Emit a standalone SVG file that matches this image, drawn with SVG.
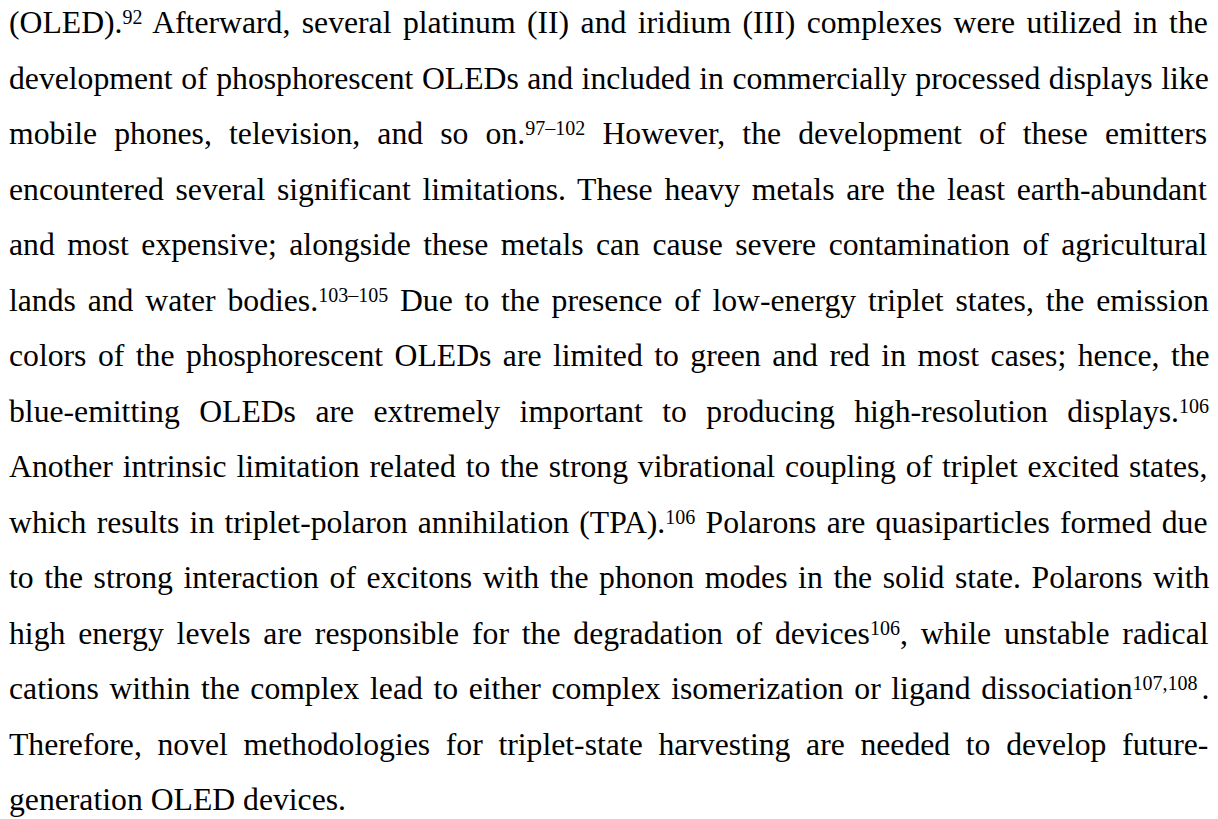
<svg xmlns="http://www.w3.org/2000/svg" width="1218" height="819" viewBox="0 0 1218 819">
  <style>
    .body { font-family: "Liberation Serif", "Times New Roman", serif; font-size: 31.7px; fill: #000; }
    .sup { font-size: 20px; }
  </style>
  <rect width="1218" height="819" fill="#fff"/>
  <g id="paragraph" class="body">
    <text x="9" y="33" word-spacing="3.5">(OLED).<tspan class="sup" dy="-9">92</tspan><tspan dy="9"> Afterward, several platinum (II) and iridium (III) complexes were utilized in the</tspan></text>
    <text x="9" y="88.5" word-spacing="0.65">development of phosphorescent OLEDs and included in commercially processed displays like</text>
    <text x="9" y="144" word-spacing="9.25">mobile phones, television, and so on.<tspan class="sup" dy="-9">97–102</tspan><tspan dy="9"> However, the development of these emitters</tspan></text>
    <text x="9" y="199.5" word-spacing="3.78">encountered several significant limitations. These heavy metals are the least earth-abundant</text>
    <text x="9" y="255" word-spacing="4.55">and most expensive; alongside these metals can cause severe contamination of agricultural</text>
    <text x="9" y="310.5" word-spacing="3.9">lands and water bodies.<tspan class="sup" dy="-9">103–105</tspan><tspan dy="9"> Due to the presence of low-energy triplet states, the emission</tspan></text>
    <text x="9" y="366" word-spacing="3.55">colors of the phosphorescent OLEDs are limited to green and red in most cases; hence, the</text>
    <text x="9" y="421.5" word-spacing="11.5">blue-emitting OLEDs are extremely important to producing high-resolution displays.<tspan class="sup" dy="-9">106</tspan></text>
    <text x="9" y="477" word-spacing="1.96">Another intrinsic limitation related to the strong vibrational coupling of triplet excited states,</text>
    <text x="9" y="532.5" word-spacing="2.3">which results in triplet-polaron annihilation (TPA).<tspan class="sup" dy="-9">106</tspan><tspan dy="9"> Polarons are quasiparticles formed due</tspan></text>
    <text x="9" y="588" word-spacing="2.7">to the strong interaction of excitons with the phonon modes in the solid state. Polarons with</text>
    <text x="9" y="643.5" word-spacing="4.9">high energy levels are responsible for the degradation of devices<tspan class="sup" dy="-9">106</tspan><tspan dy="9">, while unstable radical</tspan></text>
    <text x="9" y="699" word-spacing="2.7">cations within the complex lead to either complex isomerization or ligand dissociation<tspan class="sup" dy="-9">107,108</tspan><tspan dy="9" dx="4">.</tspan></text>
    <text x="9" y="754.5" word-spacing="7.75">Therefore, novel methodologies for triplet-state harvesting are needed to develop future-</text>
    <text x="9" y="810">generation OLED devices.</text>
  </g>
</svg>
